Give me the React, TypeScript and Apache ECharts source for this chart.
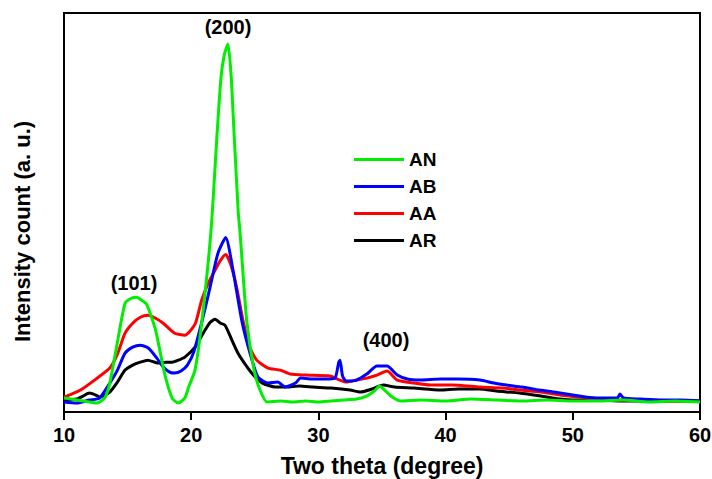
import React, { useEffect, useRef } from "react";
import * as echarts from "echarts";

// Two theta (degree) and intensity (a. u.)
const anX = [10, 11, 12, 12.6, 13.2, 13.6, 14.2, 14.8, 15.3, 15.7, 16.1, 16.5, 17.2, 17.9, 18.5, 19, 19.5, 19.8, 20.3, 20.85, 21.56, 22.05, 22.34, 22.6, 22.89, 23.13, 23.36, 23.7, 23.84, 24.36, 24.94, 25.41, 25.96, 27, 28, 29, 30, 31, 32, 33, 33.8, 34.4, 34.8, 35.2, 35.8, 36.5, 38, 40, 42, 44, 46, 48, 50, 52, 54, 56, 58, 60];
const anY = [14, 12, 10, 9, 14, 29, 70, 109, 114, 115, 112, 108, 82, 39, 14, 9, 14, 25, 42, 92, 182, 282, 335, 358, 369, 339, 282, 200, 180, 92, 42, 22, 10, 11, 10, 11, 10, 11, 12, 13, 16, 21, 26, 22, 15, 11, 12, 11, 13, 12, 11, 12, 11, 11, 12, 10, 11, 10];

const abX = [10, 11, 12, 12.8, 13.6, 14.2, 14.8, 15.4, 16, 16.5, 16.8, 17.3, 17.8, 18.3, 18.7, 19.2, 19.7, 20.2, 20.87, 21.48, 22.1, 22.71, 23.29, 23.97, 24.62, 25.25, 26.04, 26.8, 27.4, 28.2, 28.6, 29.5, 30.5, 31.3, 31.6, 31.7, 31.9, 32.2, 33, 33.8, 34.6, 35.4, 36.2, 37, 38, 39.6, 41, 42.7, 43.8, 44.8, 46, 47.4, 48.5, 50, 51, 52.1, 53.5, 53.7, 54, 55.3, 57, 58.5, 60];
const abY = [10, 9, 12, 14, 29, 42, 59, 65, 67, 65, 62, 54, 45, 40, 39, 41, 47, 60, 92, 125, 159, 175, 142, 92, 59, 35, 29, 30, 25, 29, 34, 33, 33, 34, 50, 52, 36, 31, 32, 38, 46, 46, 37, 33, 32, 33, 33, 32, 29, 27, 25, 22, 20, 17, 15, 14, 14, 18, 14, 13, 12, 12, 11];

const aaX = [10, 10.6, 11.3, 12.4, 13.6, 14.2, 14.8, 15.4, 16, 16.6, 17.2, 17.8, 18.7, 19.5, 20.3, 20.82, 21.3, 21.87, 22.3, 22.71, 23.1, 23.57, 24.07, 24.6, 25.15, 26.04, 27, 27.8, 29, 30.9, 32.2, 33, 33.8, 34.6, 35.4, 36.2, 37.5, 38.8, 40.5, 42.7, 44.5, 45.8, 47.5, 49, 50.5, 51.6, 53, 55.3, 57, 60];
const aaY = [15, 18, 22, 32, 44, 58, 79, 89, 95, 97, 94, 89, 79, 77, 88, 112, 128, 142, 152, 158, 148, 125, 92, 65, 52, 44, 42, 38, 37, 36, 30, 32, 34, 37, 41, 32, 29, 27, 27, 25, 24, 22, 20, 17, 15, 13, 12, 12, 11, 11];

const arX = [10, 11, 11.5, 12, 12.5, 12.8, 13.6, 14.2, 14.8, 15.4, 16, 16.6, 17.4, 18, 18.5, 19, 19.5, 20.3, 21.08, 21.5, 21.87, 22.3, 22.66, 23.2, 23.68, 24.46, 24.9, 25.6, 26.6, 27.5, 28.5, 29.6, 31, 32.5, 33.3, 34.2, 35.1, 36, 37.5, 39.6, 41, 42.7, 44, 45.8, 47.5, 49, 50, 51.6, 54, 57, 60];
const arY = [12, 13, 16, 19, 17, 15, 20, 30, 42, 47, 50, 52, 49, 50, 50, 52, 55, 65, 82, 90, 93, 89, 87, 72, 59, 44, 37, 29, 25, 25, 26, 25, 24, 22, 20, 23, 27, 25, 24, 22, 23, 23, 21, 19, 16, 13, 12, 12, 11, 11, 11];

const xTicks = [10, 20, 30, 40, 50, 60];
const peakLabels = ["(101)", "(200)", "(400)"];

const FONT = 'Arial, "Liberation Sans", sans-serif';

function pairs(xs: number[], ys: number[]) {
  return xs.map((x, i) => [x, ys[i]]);
}

export default function App() {
  const ref = useRef<HTMLDivElement>(null);
  useEffect(() => {
    if (!ref.current) return;
    const chart = echarts.init(ref.current, undefined, { renderer: "svg" });
    const lineSeries = (name: string, color: string, xs: number[], ys: number[]) => ({
      name,
      type: "line",
      data: pairs(xs, ys),
      showSymbol: false,
      smooth: 0.2,
      lineStyle: { color, width: 3 },
      itemStyle: { color },
    });
    chart.setOption({
      animation: false,
      backgroundColor: "#fff",
      grid: {
        left: 64,
        right: 12,
        top: 13,
        bottom: 67,
        containLabel: false,
        outerBoundsMode: "none",
        show: true,
        borderColor: "#000",
        borderWidth: 2,
      },
      legend: {
        data: ["AN", "AB", "AA", "AR"],
        orient: "vertical",
        left: 354,
        top: 150,
        padding: 0,
        icon: "rect",
        itemWidth: 50,
        itemHeight: 3,
        itemGap: 8,
        textStyle: { fontFamily: FONT, fontWeight: "bold", fontSize: 19, color: "#000", lineHeight: 17, height: 17 },
      },
      xAxis: {
        type: "value",
        min: xTicks[0],
        max: xTicks[xTicks.length - 1],
        interval: 10,
        name: "Two theta (degree)",
        nameLocation: "middle",
        nameGap: 42,
        nameTextStyle: { fontFamily: FONT, fontWeight: "bold", fontSize: 23, color: "#000" },
        axisLine: { show: true, lineStyle: { color: "#000", width: 2 } },
        axisTick: { show: true, length: 8, lineStyle: { color: "#000", width: 2 } },
        axisLabel: { fontFamily: FONT, fontWeight: "bold", fontSize: 20, color: "#000", margin: 13 },
        splitLine: { show: false },
      },
      yAxis: {
        type: "value",
        min: 0,
        max: 400,
        name: "Intensity count (a. u.)",
        nameLocation: "middle",
        nameGap: 31,
        nameTextStyle: { fontFamily: FONT, fontWeight: "bold", fontSize: 22, color: "#000", padding: [0, 38, 0, 0] },
        axisLine: { show: true, lineStyle: { color: "#000", width: 2 } },
        axisTick: { show: false },
        axisLabel: { show: false },
        splitLine: { show: false },
      },
      series: [
        lineSeries("AR", "#000000", arX, arY),
        lineSeries("AA", "#ff0000", aaX, aaY),
        lineSeries("AB", "#0000ff", abX, abY),
        lineSeries("AN", "#00ee00", anX, anY),
      ],
      graphic: [
        { type: "text", x: 134, y: 283, style: { text: peakLabels[0], font: `bold 20px ${FONT}`, fill: "#000", align: "center", verticalAlign: "middle" } },
        { type: "text", x: 228, y: 27, style: { text: peakLabels[1], font: `bold 20px ${FONT}`, fill: "#000", align: "center", verticalAlign: "middle" } },
        { type: "text", x: 386, y: 340, style: { text: peakLabels[2], font: `bold 20px ${FONT}`, fill: "#000", align: "center", verticalAlign: "middle" } },
      ],
    });
    return () => chart.dispose();
  }, []);
  return <div ref={ref} style={{ position: "absolute", left: 0, top: 0, width: 712, height: 479 }} />;
}
